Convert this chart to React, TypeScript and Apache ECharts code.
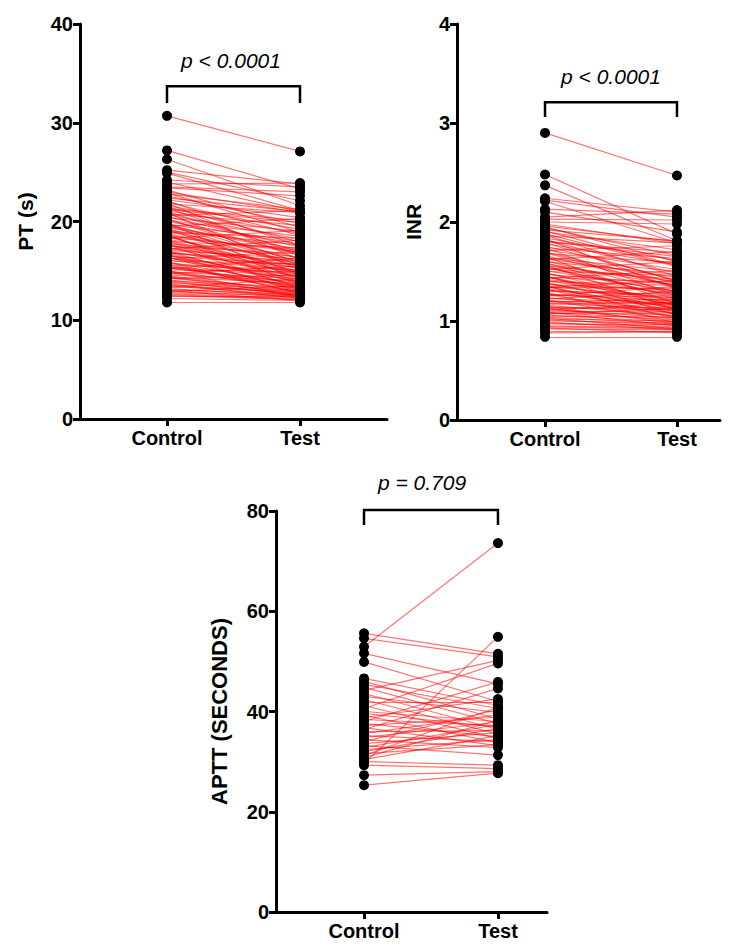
import React, { useEffect, useRef } from "react";
import * as echarts from "echarts";

const categories = ["Control", "Test"];

const ptControl = [30.7, 27.2, 26.3, 25.2, 25.0, 24.9, 24.2, 24.0, 23.8, 23.5, 23.4, 23.0, 22.8, 22.6, 22.4, 22.2, 22.0, 21.8, 21.6, 21.5, 21.3, 21.1, 21.0, 20.8, 20.7, 20.5, 20.4, 20.2, 20.1, 20.0, 19.8, 19.7, 19.6, 19.4, 19.3, 19.1, 19.0, 18.9, 18.8, 18.6, 18.5, 18.4, 18.2, 18.1, 18.0, 17.9, 17.8, 17.6, 17.5, 17.4, 17.3, 17.1, 17.0, 16.9, 16.8, 16.6, 16.5, 16.4, 16.3, 16.1, 16.0, 15.9, 15.8, 15.6, 15.5, 15.4, 15.3, 15.1, 15.0, 14.9, 14.8, 14.6, 14.5, 14.4, 14.3, 14.1, 14.0, 13.9, 13.8, 13.6, 13.5, 13.4, 13.2, 13.1, 13.0, 12.8, 12.7, 12.5, 12.4, 12.2, 11.8, 20.9, 19.9, 18.7, 17.7, 16.7, 21.9, 22.9, 15.7, 23.2, 17.2, 16.2, 14.7, 13.3, 12.9, 19.5, 18.3, 20.6, 15.2, 14.2, 22.1, 21.4, 20.3, 19.2, 18.6, 17.8, 17.0, 16.4, 15.9, 15.0, 14.4, 13.7, 13.0, 12.6, 21.2, 19.6, 18.0, 16.8, 15.4, 14.0];
const ptTest = [27.1, 23.3, 21.6, 23.8, 22.1, 21.1, 23.5, 21.0, 23.9, 23.0, 22.6, 20.9, 21.2, 19.8, 21.0, 20.4, 18.6, 20.9, 19.2, 17.9, 20.1, 18.8, 16.9, 19.6, 18.2, 17.4, 19.0, 16.6, 18.5, 17.7, 15.9, 18.0, 16.8, 17.2, 15.4, 17.6, 16.3, 18.3, 15.7, 16.9, 14.9, 17.1, 16.0, 15.2, 17.3, 14.6, 16.4, 15.5, 16.7, 14.3, 15.8, 16.2, 14.8, 15.3, 16.0, 14.1, 15.6, 13.9, 15.0, 14.5, 15.7, 13.6, 14.7, 15.1, 13.4, 14.4, 13.8, 14.9, 13.2, 14.2, 13.5, 14.0, 12.9, 13.7, 13.1, 12.8, 13.3, 12.6, 13.0, 12.7, 12.5, 12.9, 12.4, 12.6, 12.3, 12.5, 12.2, 12.1, 12.4, 12.0, 11.8, 15.1, 14.0, 13.6, 13.2, 12.9, 16.1, 18.9, 12.8, 19.4, 18.1, 17.0, 15.5, 14.2, 13.5, 20.3, 19.1, 21.1, 16.3, 14.6, 17.5, 16.6, 15.8, 14.7, 14.3, 13.9, 13.4, 13.1, 12.7, 12.3, 12.6, 12.2, 12.0, 12.1, 19.9, 15.6, 14.8, 13.8, 13.3, 12.5];

const inrControl = [2.90, 2.48, 2.37, 2.24, 2.22, 2.21, 2.13, 2.10, 2.05, 2.03, 2.00, 1.98, 1.96, 1.94, 1.92, 1.90, 1.88, 1.86, 1.84, 1.82, 1.80, 1.78, 1.76, 1.74, 1.72, 1.70, 1.68, 1.66, 1.64, 1.63, 1.61, 1.60, 1.58, 1.56, 1.55, 1.53, 1.51, 1.50, 1.48, 1.47, 1.45, 1.44, 1.42, 1.41, 1.40, 1.38, 1.37, 1.35, 1.34, 1.33, 1.31, 1.30, 1.28, 1.27, 1.26, 1.24, 1.23, 1.21, 1.20, 1.18, 1.17, 1.16, 1.14, 1.13, 1.12, 1.10, 1.09, 1.08, 1.06, 1.05, 1.04, 1.02, 1.01, 1.00, 0.98, 0.97, 0.95, 0.94, 0.92, 0.90, 0.88, 0.84, 1.74, 1.65, 1.57, 1.46, 1.36, 1.83, 1.91, 1.29, 1.95, 1.43, 1.34, 1.22, 1.11, 1.07, 1.62, 1.52, 1.71, 1.25, 1.19, 1.87, 1.79, 1.69, 1.59, 1.49, 1.39, 1.32, 1.27, 1.15, 1.09, 1.03, 0.99, 0.93, 1.81, 1.54, 1.45, 1.35, 1.21, 1.13];
const inrTest = [2.47, 1.88, 1.81, 2.10, 2.05, 1.79, 2.08, 1.90, 2.12, 2.02, 1.98, 1.78, 1.80, 1.66, 1.81, 1.72, 1.55, 1.79, 1.61, 1.48, 1.69, 1.57, 1.41, 1.63, 1.52, 1.38, 1.59, 1.35, 1.50, 1.44, 1.29, 1.47, 1.36, 1.40, 1.24, 1.42, 1.30, 1.46, 1.26, 1.37, 1.19, 1.39, 1.28, 1.21, 1.36, 1.16, 1.31, 1.23, 1.33, 1.13, 1.25, 1.27, 1.15, 1.20, 1.24, 1.10, 1.18, 1.08, 1.17, 1.12, 1.19, 1.05, 1.11, 1.14, 1.03, 1.09, 1.01, 1.07, 0.99, 1.04, 0.97, 1.00, 0.96, 0.98, 0.94, 0.96, 0.93, 0.92, 0.91, 0.90, 0.89, 0.84, 1.25, 1.17, 1.11, 1.06, 1.02, 1.32, 1.56, 0.98, 1.60, 1.51, 1.41, 1.30, 1.18, 1.13, 1.70, 1.60, 1.76, 1.35, 1.22, 1.45, 1.40, 1.34, 1.22, 1.16, 1.12, 1.07, 1.04, 0.97, 0.95, 0.92, 0.91, 0.88, 1.65, 1.28, 1.15, 1.10, 1.01, 0.99];

const apttControl = [55.6, 54.6, 52.9, 51.6, 49.9, 46.6, 46.0, 45.4, 44.8, 44.2, 43.6, 43.0, 42.4, 41.8, 41.2, 40.6, 40.0, 39.6, 39.2, 38.8, 38.4, 38.0, 37.6, 37.2, 36.8, 36.4, 36.0, 35.6, 35.2, 34.8, 34.4, 34.0, 33.6, 33.2, 32.8, 32.4, 32.0, 31.6, 31.2, 30.8, 30.4, 30.0, 29.6, 29.3, 27.3, 25.3];
const apttTest = [51.5, 50.9, 73.6, 45.5, 42.0, 41.2, 38.5, 40.6, 37.6, 50.2, 36.4, 39.8, 35.5, 41.8, 34.6, 49.6, 38.0, 36.9, 33.8, 42.5, 37.2, 45.9, 35.0, 38.9, 33.2, 44.6, 36.2, 39.4, 34.0, 37.9, 32.8, 40.4, 35.8, 31.3, 37.4, 34.4, 36.6, 33.4, 40.9, 38.3, 35.2, 29.3, 54.9, 28.6, 28.0, 27.7];

const ptTicks = { min: 0, max: 40, interval: 10 };
const inrTicks = { min: 0, max: 4, interval: 1 };
const apttTicks = { min: 0, max: 80, interval: 20 };

const pLabels = ["p < 0.0001", "p < 0.0001", "p = 0.709"];

const FONT = "'Liberation Sans', Arial, Helvetica, sans-serif";

export default function App() {
  const ref = useRef<HTMLDivElement>(null);
  useEffect(() => {
    document.body.style.margin = "0";
    if (!ref.current) return;
    const chart = echarts.init(ref.current, null, { renderer: "svg" });

    const panels = [
      { c: ptControl, t: ptTest, ticks: ptTicks, name: "PT (s)", nameSize: 21, grid: { left: 80, top: 24, width: 307, height: 395 }, xr: [-0.654, 1.654], bracket: [32.0, 33.7], nameGap: 44 },
      { c: inrControl, t: inrTest, ticks: inrTicks, name: "INR", nameSize: 21, grid: { left: 457, top: 24, width: 263, height: 396 }, xr: [-0.667, 1.326], bracket: [3.06, 3.21], nameGap: 33 },
      { c: apttControl, t: apttTest, ticks: apttTicks, name: "APTT (SECONDS)", nameSize: 22, grid: { left: 276, top: 511, width: 271, height: 401 }, xr: [-0.657, 1.366], bracket: [77.2, 80.2], nameGap: 46 },
    ];

    const axisStyle = { color: "#000", width: 3 };
    const labelStyle = { color: "#000", fontSize: 20, fontWeight: "bold" as const, fontFamily: FONT };

    const grids: any[] = [];
    const xAxes: any[] = [];
    const yAxes: any[] = [];
    const series: any[] = [];

    panels.forEach((p, i) => {
      grids.push({ ...p.grid, containLabel: false });
      xAxes.push({
        type: "value",
        gridIndex: i,
        min: p.xr[0],
        max: p.xr[1],
        splitLine: { show: false },
        axisLine: { show: true, onZero: false, lineStyle: axisStyle },
        axisTick: { show: true, length: 7, lineStyle: axisStyle, customValues: [0, 1] },
        axisLabel: {
          ...labelStyle,
          margin: 9,
          customValues: [0, 1],
          formatter: (v: number) => (Math.round(v) === 0 ? categories[0] : categories[1]),
        },
      });
      yAxes.push({
        type: "value",
        gridIndex: i,
        min: p.ticks.min,
        max: p.ticks.max,
        interval: p.ticks.interval,
        name: p.name,
        nameLocation: "middle",
        nameGap: p.nameGap,
        nameTextStyle: { color: "#000", fontSize: p.nameSize, fontWeight: "bold", fontFamily: FONT },
        splitLine: { show: false },
        axisLine: { show: true, onZero: false, lineStyle: axisStyle },
        axisTick: { show: true, length: 7, lineStyle: axisStyle },
        axisLabel: { ...labelStyle, margin: 7 },
      });
      series.push({
        type: "lines",
        coordinateSystem: "cartesian2d",
        xAxisIndex: i,
        yAxisIndex: i,
        z: 2,
        silent: true,
        lineStyle: { color: "#ff0000", opacity: 0.55, width: 1.2 },
        data: p.c.map((v, k) => ({ coords: [[0, v], [1, p.t[k]]] })),
      });
      series.push({
        type: "scatter",
        xAxisIndex: i,
        yAxisIndex: i,
        z: 3,
        symbolSize: 10,
        itemStyle: { color: "#000", opacity: 1 },
        data: [...p.c.map((v) => [0, v]), ...p.t.map((v) => [1, v])],
      });
      series.push({
        type: "lines",
        coordinateSystem: "cartesian2d",
        xAxisIndex: i,
        yAxisIndex: i,
        polyline: true,
        clip: false,
        z: 4,
        silent: true,
        lineStyle: { color: "#000", width: 2.5, opacity: 1 },
        data: [{ coords: [[0, p.bracket[0]], [0, p.bracket[1]], [1, p.bracket[1]], [1, p.bracket[0]]] }],
      });
    });

    const textPos = [
      [231, 60],
      [611, 76],
      [422, 482],
    ];

    chart.setOption({
      animation: false,
      grid: grids,
      xAxis: xAxes,
      yAxis: yAxes,
      series,
      graphic: pLabels.map((txt, i) => ({
        type: "text",
        x: textPos[i][0],
        y: textPos[i][1],
        style: {
          text: txt,
          fontSize: 21,
          fontStyle: "italic",
          fontFamily: FONT,
          fill: "#000",
          align: "center",
          verticalAlign: "middle",
        },
      })),
    });
    return () => chart.dispose();
  }, []);
  return <div ref={ref} style={{ width: 753, height: 946 }} />;
}
